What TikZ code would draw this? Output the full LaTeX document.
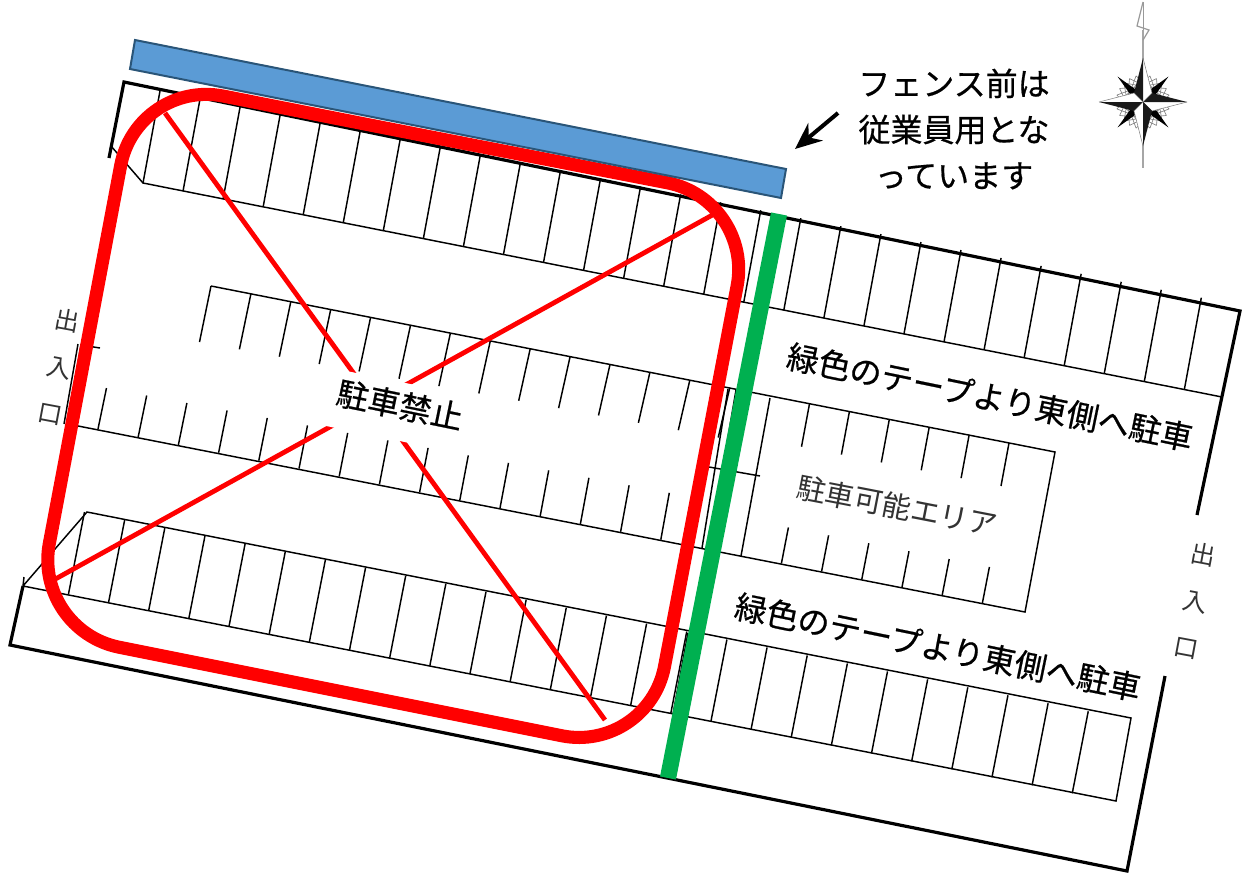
\documentclass[tikz,border=0pt]{standalone}
\usepackage{fontspec}
\setmainfont{Noto Sans CJK JP}
\newfontfamily\heavyjp[FakeBold=0.6]{Noto Sans CJK JP}
\usetikzlibrary{arrows.meta}
\definecolor{fencefill}{HTML}{5B9BD5}
\definecolor{fenceline}{HTML}{2A5578}
\definecolor{tapegreen}{HTML}{00B050}
\definecolor{thinink}{HTML}{333333}
\tikzset{
  thinline/.style={black,line width=1.1pt},
  thickline/.style={black,line width=2.4pt},
  redframe/.style={red,line width=9.8pt,line join=round},
  redcross/.style={red,line width=3.6pt},
  bigtext/.style={font=\heavyjp\fontsize{24pt}{34.5pt}\selectfont,align=center,inner sep=0pt},
  thintext/.style={font=\fontsize{21.8pt}{24pt}\selectfont,text=thinink,inner sep=0pt},
  gatetext/.style={font=\fontsize{18.5pt}{35.5pt}\selectfont,text=thinink,align=center,inner sep=0pt,rotate=-10.6},
}
\begin{document}
\begin{tikzpicture}[x=0.75pt,y=-0.75pt]
\useasboundingbox (0,0) rectangle (1245,875);
% outer boundary
\coordinate (oTL) at (124,82);
\coordinate (oTLs) at (109,158);
\coordinate (oTR) at (1240,311);
\coordinate (oRa) at (1197,515);
\coordinate (oLBa) at (23,586);
\coordinate (oLB) at (10,645);
\coordinate (oRB) at (1127,871);
\coordinate (oRb) at (1165,676);
\draw[thickline] (oTLs) -- (oTL) -- (oTR) -- (oRa);
\draw[thickline] (oLBa) -- (oLB) -- (oRB) -- (oRb);
% row 1
\coordinate (r1a) at (143,183);
\coordinate (r1b) at (1222,397);
\coordinate (r1c) at (111,146);
\draw[thinline] (r1c) -- (r1a) -- (r1b);
\foreach \k in {0,...,26}{
  \pgfmathsetmacro{\bx}{143+40.05*\k}
  \pgfmathsetmacro{\by}{183+0.1985*40.05*\k}
  \draw[thinline] (\bx,\by) -- (\bx+17,\by-92);
}
% row 2, upper half
\coordinate (r2a) at (211,286);
\coordinate (r2b) at (1055,452);
\coordinate (r2c) at (1025,612);
\coordinate (r2d) at (73,425);
\draw[thinline] (r2a) -- (r2b) -- (r2c) -- (r2d);
\foreach \k in {0,...,13}{
  \pgfmathsetmacro{\tx}{211+39.9*\k}
  \pgfmathsetmacro{\ty}{286+0.1967*39.9*\k}
  \draw[thinline] (\tx,\ty) -- (\tx-11.5,\ty+56-0.5*\k);
}
\foreach \k in {15,...,20}{
  \pgfmathsetmacro{\tx}{211+39.9*\k}
  \pgfmathsetmacro{\ty}{286+0.1967*39.9*\k}
  \draw[thinline] (\tx,\ty) -- (\tx-8,\ty+43);
}
% row 2, long lines and middle piece
\coordinate (d1a) at (728,389);
\coordinate (d1b) at (702,548);
\coordinate (d2a) at (736,390);
\coordinate (d2b) at (709,549);
\coordinate (d3a) at (770,398);
\coordinate (d3b) at (741,556);
\coordinate (m1) at (709,467);
\coordinate (m2) at (760,476);
\draw[thinline] (d1a) -- (d1b);
\draw[thinline] (d2a) -- (d2b);
\draw[thinline] (d3a) -- (d3b);
\draw[thinline] (m1) -- (m2);
% left gate side
\coordinate (g1) at (78,344);
\coordinate (g2) at (64,424);
\coordinate (g3) at (81,345);
\coordinate (g4) at (67,425);
\coordinate (g5) at (100,348);
\draw[thinline] (g1) -- (g2);
\draw[thinline] (g4) -- (g3) -- (g5);
% row 2, lower stalls
\foreach \k in {0,...,14}{
  \pgfmathsetmacro{\bx}{98+40.2*\k}
  \pgfmathsetmacro{\by}{429+0.1967*40.2*\k}
  \pgfmathsetmacro{\ln}{41+0.42*\k}
  \draw[thinline] (\bx,\by) -- (\bx+8.5,\by-\ln);
}
\foreach \k in {17,...,22}{
  \pgfmathsetmacro{\bx}{98+40.2*\k}
  \pgfmathsetmacro{\by}{429+0.1967*40.2*\k}
  \draw[thinline] (\bx,\by) -- (\bx+7,\by-36);
}
% row 3
\coordinate (r3a) at (87,512);
\coordinate (r3b) at (1131,718);
\coordinate (r3c) at (1116,801);
\coordinate (r3d) at (24,577);
\draw[thinline] (r3d) -- (oLBa) -- (r3c) -- (r3b) -- (r3a) -- (oLBa);
\foreach \k in {0,...,25}{
  \pgfmathsetmacro{\bx}{68.5+40.15*\k}
  \pgfmathsetmacro{\by}{594+0.1985*40.15*\k}
  \draw[thinline] (\bx,\by) -- (\bx+16,\by-82);
}
\coordinate (d4a) at (688,633);
\coordinate (d4b) at (673,714);
\draw[thinline] (d4a) -- (d4b);
% red frame and cross
\coordinate (rfs) at (400,131);
\coordinate (rf1) at (137,79);
\coordinate (rf2) at (33,630);
\coordinate (rf3) at (648,753);
\coordinate (rf4) at (753.6,199.5);
\draw[redframe,rounded corners=66pt] (rfs) -- (rf1) -- (rf2) -- (rf3) -- (rf4) -- cycle;
\coordinate (xa) at (165,113);
\coordinate (xb) at (605,720);
\coordinate (xc) at (716,213);
\coordinate (xd) at (50,582);
\draw[redcross] (xa) -- (xb);
\draw[redcross] (xc) -- (xd);
% white patch behind the no-parking label
\fill[white] (320.1,365.6) -- (476.9,397.6) -- (465.3,454.4) -- (308.5,422.4) -- cycle;
% green tape
\coordinate (ga) at (779,214);
\coordinate (gb) at (668,778);
\draw[tapegreen,line width=12.2pt] (ga) -- (gb);
% fence
\coordinate (f1) at (135,40);
\coordinate (f2) at (786,169);
\coordinate (f3) at (781,198);
\coordinate (f4) at (130,69);
\draw[fill=fencefill,draw=fenceline,line width=1.5pt] (f1) -- (f2) -- (f3) -- (f4) -- cycle;
% arrow
\coordinate (aa) at (838,113);
\coordinate (ab) at (795,149);
\draw[black,line width=3pt,-{Stealth[length=20pt,width=17pt]}] (aa) -- (ab);
% compass
\begin{scope}[shift={(1143,102)}]
  \foreach \a in {0,15,...,345}{
    \draw[gray,line width=.5pt] (\a:27) -- (\a+40:16);
    \draw[gray,line width=.5pt] (\a:27) -- (\a-40:16);
  }
  \draw[gray!70,line width=1.2pt] (0,-72) -- (0,66);
  \draw[gray!80,line width=.9pt] (0,-100) -- (-6,-76) -- (6,-72) -- (0,-62);
  \draw[gray!80,line width=.7pt] (0,-100) -- (0,-72);
  \foreach \a in {45,135,225,315}{
    \fill[black,rotate=\a] (0,0) -- (6,5) -- (36,0) -- (6,-5) -- cycle;
  }
  \foreach \a in {0,90,180,270}{
    \fill[white,rotate=\a] (0,0) -- (9,9) -- (44,0) -- cycle;
    \draw[gray,line width=.4pt,rotate=\a] (0,0) -- (9,9) -- (44,0);
    \fill[black!90,rotate=\a] (0,0) -- (9,-9) -- (44,0) -- cycle;
  }
\end{scope}
% labels
\node[bigtext] (fencelabel) at (954,129) {フェンス前は\\従業員用とな\\っています};
\node[bigtext,rotate=-11.6] (east1) at (990,397) {緑色のテープより東側へ駐車};
\node[bigtext,rotate=-11.6] (east2) at (938,647) {緑色のテープより東側へ駐車};
\node[thintext,rotate=-11] (oklabel) at (897,506) {駐車可能エリア};
\node[gatetext] (gateL) at (59,367) {出\\入\\口};
\node[gatetext] (gateR) at (1195,601) {出\\入\\口};
\node[bigtext,rotate=-11.6] (nopark) at (400,405) {駐車禁止};
\end{tikzpicture}
\end{document}
